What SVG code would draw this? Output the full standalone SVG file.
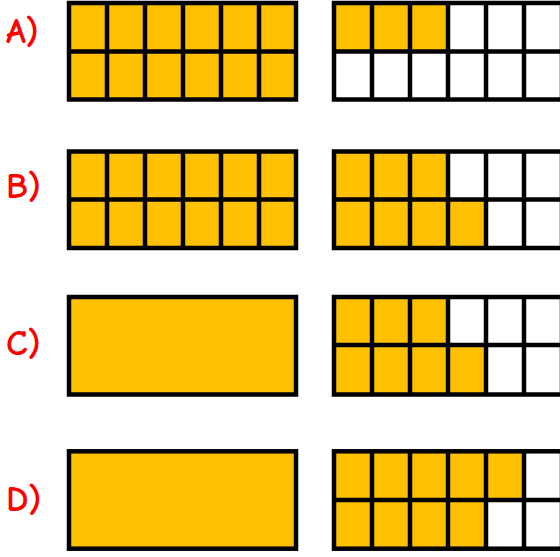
<svg xmlns="http://www.w3.org/2000/svg" width="560" height="557" viewBox="0 0 560 557">
<style>
.lbl{font-family:"Comic Sans MS","Comic Neue","DejaVu Sans",sans-serif;font-size:36px;font-weight:bold;fill:#ff0000}
.y{fill:#ffc000}
.w{fill:#ffffff}
.g{fill:none;stroke:#000;stroke-width:4.5}
</style>
<rect width="560" height="557" fill="#fff"/>
<g id="row-A">
<text class="lbl" x="6" y="43">A)</text>
<g id="A-left">
<rect class="y" x="69" y="3" width="227" height="96.5"/>
<path class="g" d="M107 3V99.5M145 3V99.5M183 3V99.5M221 3V99.5M259 3V99.5M69 51.5H296"/>
<rect class="g" x="69" y="3" width="227" height="96.5"/>
</g>
<g id="A-right">
<rect class="w" x="334" y="3" width="228" height="96.5"/>
<rect class="y" x="334" y="3" width="114" height="48.5"/>
<path class="g" d="M372 3V99.5M410 3V99.5M448 3V99.5M486 3V99.5M524 3V99.5M334 51.5H562"/>
<rect class="g" x="334" y="3" width="228" height="96.5"/>
</g>
</g>
<g id="row-B">
<text class="lbl" x="6" y="198">B)</text>
<g id="B-left">
<rect class="y" x="69" y="151.5" width="227" height="96.5"/>
<path class="g" d="M107 151.5V248M145 151.5V248M183 151.5V248M221 151.5V248M259 151.5V248M69 199.5H296"/>
<rect class="g" x="69" y="151.5" width="227" height="96.5"/>
</g>
<g id="B-right">
<rect class="w" x="334" y="151.5" width="228" height="96.5"/>
<rect class="y" x="334" y="151.5" width="114" height="48"/>
<rect class="y" x="334" y="199.5" width="152" height="48.5"/>
<path class="g" d="M372 151.5V248M410 151.5V248M448 151.5V248M486 151.5V248M524 151.5V248M334 199.5H562"/>
<rect class="g" x="334" y="151.5" width="228" height="96.5"/>
</g>
</g>
<g id="row-C">
<text class="lbl" x="6" y="355">C)</text>
<g id="C-left">
<rect class="g" x="69" y="297" width="227" height="97.5" style="fill:#ffc000"/>
</g>
<g id="C-right">
<rect class="w" x="334" y="297" width="228" height="97.5"/>
<rect class="y" x="334" y="297" width="114" height="48"/>
<rect class="y" x="334" y="345" width="152" height="49.5"/>
<path class="g" d="M372 297V394.5M410 297V394.5M448 297V394.5M486 297V394.5M524 297V394.5M334 345H562"/>
<rect class="g" x="334" y="297" width="228" height="97.5"/>
</g>
</g>
<g id="row-D">
<text class="lbl" x="6" y="511">D)</text>
<g id="D-left">
<rect class="g" x="69" y="451.3" width="227" height="97.4" style="fill:#ffc000"/>
</g>
<g id="D-right">
<rect class="w" x="334" y="451.3" width="228" height="97.4"/>
<rect class="y" x="334" y="451.3" width="190" height="48.7"/>
<rect class="y" x="334" y="500" width="152" height="48.7"/>
<path class="g" d="M372 451.3V548.7M410 451.3V548.7M448 451.3V548.7M486 451.3V548.7M524 451.3V548.7M334 500H562"/>
<rect class="g" x="334" y="451.3" width="228" height="97.4"/>
</g>
</g>
</svg>
